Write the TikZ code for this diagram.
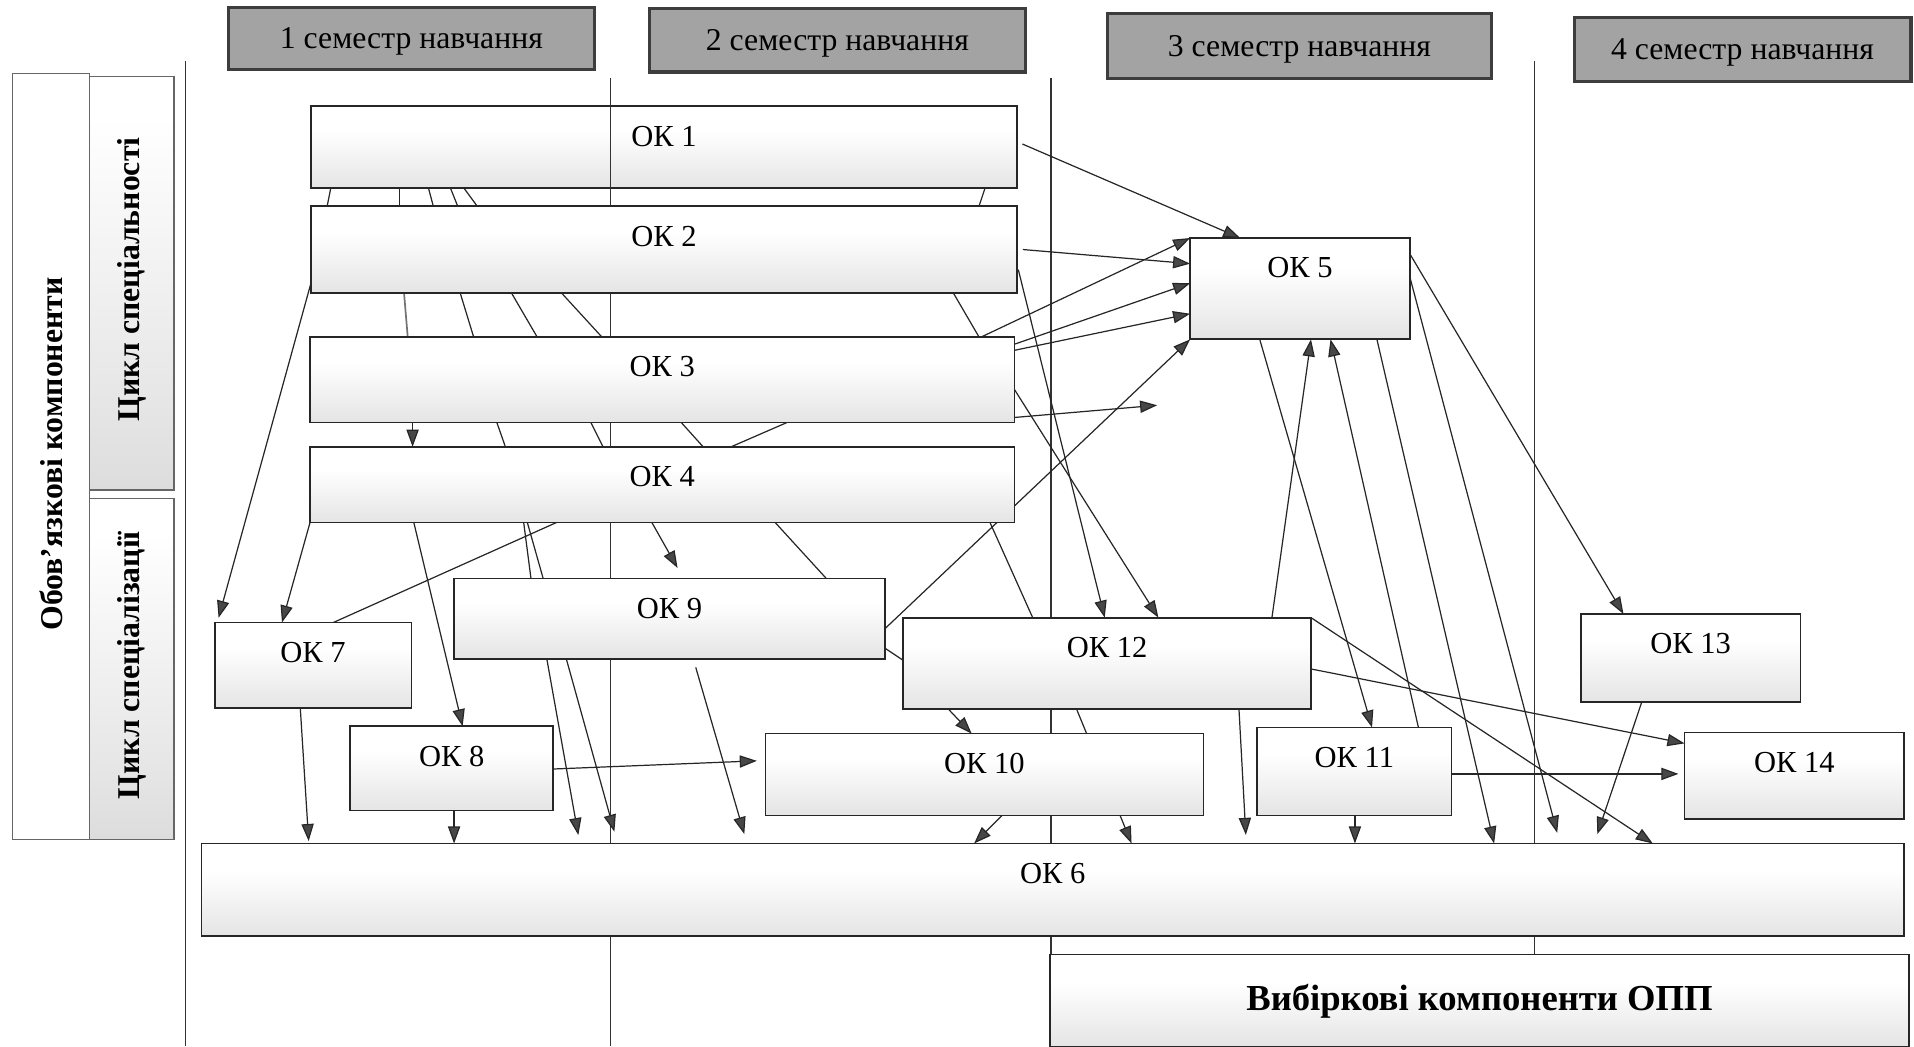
\documentclass[tikz,border=0pt]{standalone}
\usepackage{fontspec}
\setmainfont{Liberation Serif}
\usetikzlibrary{arrows.meta}
\pgfdeclarelayer{first}
\pgfdeclarelayer{lanes}
\pgfdeclarelayer{conn}
\pgfsetlayers{first,lanes,conn,main}
\pgfdeclareverticalshading{okshade}{100bp}{color(0bp)=(black!17); color(30bp)=(black!9); color(60bp)=(white); color(100bp)=(white)}
\pgfdeclareverticalshading{sideshade}{100bp}{color(0bp)=(black!22); color(35bp)=(black!10); color(70bp)=(white); color(100bp)=(white)}
\newcommand\okfont{\fontsize{25}{29}\selectfont}
\newcommand\okbox[6]{\node[box, minimum width={#4-#2}, minimum height={#5-#3}, label={[lbl]north:#6}] (#1) at (#2,#3) {};}
\begin{document}
\begin{tikzpicture}[x=1pt,y=-1pt,
  box/.style={draw=black!85, line width=1.4pt, shading=okshade, anchor=north west, inner sep=0pt, outer sep=0pt},
  lbl/.style={anchor=center, yshift=-24.5pt, font=\okfont, inner sep=0pt},
  hdr/.style={draw=black!76, line width=2.5pt, fill=black!36, font=\fontsize{26}{30}\selectfont, inner sep=0pt, text depth=0pt},
  side/.style={draw=black!60, line width=1pt, inner sep=0pt, anchor=north west},
  vtext/.style={rotate=90, font=\fontsize{26}{30}\selectfont\bfseries},
  ln/.style={draw=black!85, line width=1pt},
  arr/.style={ln, -{Triangle[length=14pt,width=10pt,fill=black!72]}},
  lane/.style={draw=black!80, line width=1pt}
]
\useasboundingbox (0,0) rectangle (1568,857);

% headers
\node[hdr, minimum width=300, minimum height=51] (h1) at (337,31.5) {1 семестр навчання};
\node[hdr, minimum width=308, minimum height=52] (h2) at (686,33) {2 семестр навчання};
\node[hdr, minimum width=315, minimum height=53] (h3) at (1064.5,37.5) {3 семестр навчання};
\node[hdr, minimum width=276, minimum height=53] (h4) at (1427.5,40.5) {4 семестр навчання};

% left column
\node[side, fill=white, minimum width=63, minimum height=627] (obl) at (10,60) {};
\node[vtext] (oblt) at (42,372) {Обов'язкові компоненти};
\node[side, shading=sideshade, minimum width=69, minimum height=339] (spc) at (73,62) {};
\node[vtext] (spct) at (108,229) {Цикл спеціальності};
\node[side, shading=sideshade, minimum width=69, minimum height=279] (szc) at (73,408) {};
\node[vtext] (szct) at (108,545) {Цикл спеціалізації};

% boxes
\begin{pgfonlayer}{first}
\okbox{ok1}{255}{87}{833}{154}{ОК 1}
\end{pgfonlayer}
\okbox{ok2}{255}{169}{833}{240}{ОК 2}
\okbox{ok3}{254}{276}{831}{346}{ОК 3}
\okbox{ok4}{254}{366}{831}{428}{ОК 4}
\okbox{ok5}{975}{195}{1155}{278}{ОК 5}
\okbox{ok6}{165}{691}{1560}{767}{ОК 6}
\okbox{ok7}{176}{510}{337}{580}{ОК 7}
\okbox{ok8}{287}{595}{453}{664}{ОК 8}
\okbox{ok9}{372}{474}{725}{540}{ОК 9}
\okbox{ok10}{627}{601}{986}{668}{ОК 10}
\okbox{ok11}{1030}{596}{1189}{668}{ОК 11}
\okbox{ok12}{740}{506}{1074}{581}{ОК 12}
\okbox{ok13}{1295}{503}{1475}{575}{ОК 13}
\okbox{ok14}{1380}{600}{1560}{671}{ОК 14}
\node[box, minimum width=704, minimum height=76, font=\fontsize{30}{34}\selectfont\bfseries] (vyb) at (860,782) {Вибіркові компоненти ОПП};

% lanes
\begin{pgfonlayer}{lanes}
\draw[lane] (152,50) -- (152,857);
\draw[lane] (500,64) -- (500,857);
\draw[lane] (861,64) -- (861,782);
\draw[lane] (1257,50) -- (1257,782);
\end{pgfonlayer}

\begin{pgfonlayer}{conn}
% OK1 - OK2
\draw[ln] (271,0 |- ok1.south) -- (268,0 |- ok2.north);
\draw[ln] (327,0 |- ok1.south) -- (327,0 |- ok2.north);
\draw[ln] (351,0 |- ok1.south) -- (355,0 |- ok2.north);
\draw[ln] (369,0 |- ok1.south) -- (375,0 |- ok2.north);
\draw[ln] (380,0 |- ok1.south) -- (391,0 |- ok2.north);
\draw[ln] (807,0 |- ok1.south) -- (802,0 |- ok2.north);
% OK2 - OK3
\draw[ln, draw=black!55, line width=1.4pt] (331,0 |- ok2.south) -- (334,0 |- ok3.north);
\draw[ln] (377,0 |- ok2.south) -- (388,0 |- ok3.north);
\draw[ln] (419,0 |- ok2.south) -- (440,0 |- ok3.north);
\draw[ln] (460,0 |- ok2.south) -- (493,0 |- ok3.north);
\draw[ln] (781,0 |- ok2.south) -- (802,0 |- ok3.north);
\draw[arr, shorten >=4pt] (ok2.west |- 0,231) -- (178,0 |- ok7.north);
% OK3 - OK4
\draw[arr] (338,0 |- ok3.south) -- (338,0 |- ok4.north);
\draw[ln] (407,0 |- ok3.south) -- (414,0 |- ok4.north);
\draw[ln] (484,0 |- ok3.south) -- (494,0 |- ok4.north);
\draw[ln] (558,0 |- ok3.south) -- (576,0 |- ok4.north);
\draw[ln] (599,0 |- ok4.north) -- (645,0 |- ok3.south);
% below OK4
\draw[arr] (ok4.south west) -- (231,0 |- ok7.north);
\draw[ln] (456,0 |- ok4.south) -- (273,0 |- ok7.north);
\draw[arr] (339,0 |- ok4.south) -- (379,0 |- ok8.north);
\draw[ln] (429,0 |- ok4.south) -- (435,0 |- ok9.north);
\draw[ln] (432,0 |- ok4.south) -- (445,0 |- ok9.north);
\draw[arr, shorten >=10pt] (534,0 |- ok4.south) -- (560,0 |- ok9.north);
\draw[ln] (635,0 |- ok4.south) -- (677,0 |- ok9.north);
\draw[ln] (811,0 |- ok4.south) -- (846,0 |- ok12.north);
\draw[arr] (ok9.east |- 0,515) -- (ok5.south west);
% below OK9
\draw[arr, shorten >=7pt] (448,0 |- ok9.south) -- (475,0 |- ok6.north);
\draw[arr, shorten >=10pt] (464,0 |- ok9.south) -- (506,0 |- ok6.north);
\draw[arr, shorten <=7pt, shorten >=8pt] (568,0 |- ok9.south) -- (612,0 |- ok6.north);
\draw[ln] (ok9.east |- 0,531) -- (ok12.west |- 0,541);
% OK7, OK8
\draw[arr, shorten >=2pt] (246,0 |- ok7.south) -- (253,0 |- ok6.north);
\draw[arr] (372,0 |- ok8.south) -- (372,0 |- ok6.north);
\draw[arr, shorten >=7pt] (ok8.east |- 0,630) -- (ok10.west |- 0,623);
% right side
\draw[arr, shorten <=5pt] (ok1.east |- 0,116) -- (1016,0 |- ok5.north);
\draw[arr, shorten <=5pt] (ok2.east |- 0,204) -- (ok5.west |- 0,216);
\draw[arr, shorten <=5pt] (ok2.east |- 0,216) -- (905,0 |- ok12.north);
\draw[arr] (804,0 |- ok3.north) -- (ok5.north west);
\draw[arr] (ok3.east |- 0,282) -- (ok5.west |- 0,232);
\draw[arr] (ok3.east |- 0,287) -- (ok5.west |- 0,257);
\draw[arr] (ok3.east |- 0,319) -- (949,0 |- ok12.north);
\coordinate (free1) at (948,332);
\draw[arr] (ok3.east |- 0,342) -- (free1);
% OK5
\draw[arr] (1032,0 |- ok5.south) -- (1124,0 |- ok11.north);
\draw[arr] (1042,0 |- ok12.north) -- (1074,0 |- ok5.south);
\draw[arr] (1162,0 |- ok11.north) -- (1090,0 |- ok5.south);
\draw[arr] (1128,0 |- ok5.south) -- (1224,0 |- ok6.north);
\draw[arr, shorten >=9pt] (ok5.east |- 0,227) -- (1278,0 |- ok6.north);
\draw[arr] (ok5.east |- 0,208) -- (1330,0 |- ok13.north);
% OK12
\draw[arr] (777,0 |- ok12.south) -- (796,0 |- ok10.north);
\draw[arr] (882,0 |- ok12.south) -- (927,0 |- ok6.north);
\draw[arr, shorten >=7pt] (1015,0 |- ok12.south) -- (1021,0 |- ok6.north);
\draw[arr] (ok12.north east) -- (1354,0 |- ok6.north);
\draw[arr] (ok12.east |- 0,548) -- (ok14.west |- 0,609);
% OK10, OK11, OK13
\draw[arr] (821,0 |- ok10.south) -- (798,0 |- ok6.north);
\draw[arr] (1110,0 |- ok11.south) -- (1110,0 |- ok6.north);
\draw[arr, shorten >=5pt] (ok11.east |- 0,634) -- (ok14.west |- 0,634);
\draw[arr, shorten >=8pt] (1345,0 |- ok13.south) -- (1306,0 |- ok6.north);
\end{pgfonlayer}
\end{tikzpicture}
\end{document}
